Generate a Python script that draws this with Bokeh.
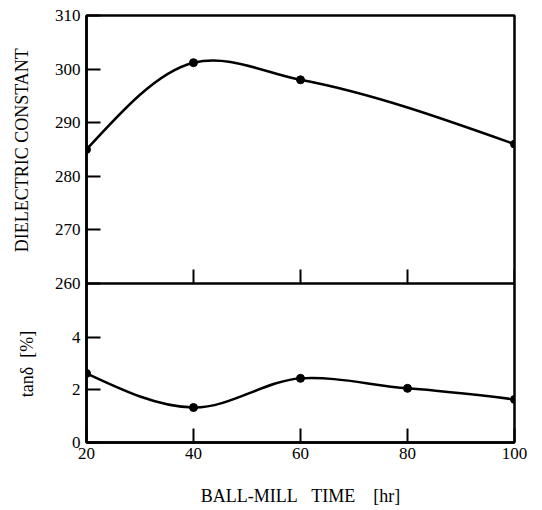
import math
from bokeh.plotting import figure
from bokeh.models import Range1d, LinearAxis, FixedTicker, ColumnDataSource
from bokeh.embed import file_html
from bokeh.resources import INLINE

# ---- data ----
ball_mill_time_dc = [20, 40, 60, 100]
dielectric_constant = [285.0, 301.2, 298.0, 286.0]

ball_mill_time_tan = [20, 40, 60, 80, 100]
tan_delta = [2.63, 1.33, 2.44, 2.06, 1.64]

x_ticks = [20, 40, 60, 80, 100]
dc_ticks = [260, 270, 280, 290, 300, 310]
tan_ticks = [0, 2, 4]

DC_LO, DC_HI = 260, 310      # dielectric-constant panel range
TAN_TOP = 6.05               # tan-delta value at the panel divider

FONT = "Liberation Serif"
TITLE_PX = 18
NBSP = "\u00a0"
NBSP_W = 0.25 * TITLE_PX     # width of a no-break space in Liberation Serif

# ---- layout (pixels) ----
LEFT, RIGHT, TOP, BOTTOM = 86, 22, 15, 68
FRAME_W = 428
TOP_PX, BOT_PX = 268, 159    # heights of the two panels inside the frame
W = LEFT + FRAME_W + RIGHT
H = TOP + TOP_PX + BOT_PX + BOTTOM

X0, X1 = 20, 100


def smooth_segments(xs, ys, tension=0.75):
    """Cubic Hermite bezier segments through the data points."""
    n = len(xs)
    m = [0.0] * n
    for i in range(1, n - 1):
        m[i] = tension * (ys[i + 1] - ys[i - 1]) / (xs[i + 1] - xs[i - 1])
    s0 = (ys[1] - ys[0]) / (xs[1] - xs[0])
    m[0] = (3 * s0 - m[1]) / 2
    sn = (ys[-1] - ys[-2]) / (xs[-1] - xs[-2])
    m[-1] = (3 * sn - m[-2]) / 2
    d = dict(x0=[], y0=[], x1=[], y1=[], cx0=[], cy0=[], cx1=[], cy1=[])
    for i in range(n - 1):
        h = xs[i + 1] - xs[i]
        d["x0"].append(xs[i]); d["y0"].append(ys[i])
        d["x1"].append(xs[i + 1]); d["y1"].append(ys[i + 1])
        d["cx0"].append(xs[i] + h / 3); d["cy0"].append(ys[i] + m[i] * h / 3)
        d["cx1"].append(xs[i + 1] - h / 3); d["cy1"].append(ys[i + 1] - m[i + 1] * h / 3)
    return ColumnDataSource(d)


dc_start = DC_LO - (DC_HI - DC_LO) * BOT_PX / TOP_PX
dc_range = Range1d(dc_start, DC_HI)
tan_end = TAN_TOP * (TOP_PX + BOT_PX) / BOT_PX
tan_range = Range1d(0, tan_end)


def tan_to_dc(t):
    """position of a tan-delta value on the main (dielectric) scale"""
    return dc_start + t * (DC_HI - dc_start) / tan_end


p = figure(width=W, height=H, x_range=Range1d(X0, X1), y_range=dc_range,
           output_backend="svg", toolbar_location=None,
           x_axis_location="below", y_axis_location=None,
           min_border_left=LEFT, min_border_right=RIGHT,
           min_border_top=TOP, min_border_bottom=BOTTOM)
p.extra_y_ranges = {"tan": tan_range}
p.xgrid.visible = False
p.ygrid.visible = False
p.outline_line_color = "black"
p.outline_line_width = 2.5
p.background_fill_color = "white"
p.border_fill_color = "white"


def style_axis(ax):
    ax.axis_line_width = 2.5
    ax.axis_line_color = "black"
    ax.major_tick_line_width = 2
    ax.major_tick_line_color = "black"
    ax.major_tick_in = 14
    ax.major_tick_out = 0
    ax.minor_tick_line_color = None
    ax.major_label_text_font = FONT
    ax.major_label_text_font_size = "17px"
    ax.major_label_text_color = "black"
    ax.axis_label_text_font = FONT
    ax.axis_label_text_font_style = "normal"
    ax.axis_label_text_font_size = f"{TITLE_PX}px"
    ax.axis_label_text_color = "black"


# left axis carrying the ticks of both panels
tan_positions = [tan_to_dc(t) for t in tan_ticks]
ax_left = LinearAxis(ticker=FixedTicker(ticks=dc_ticks + tan_positions))
ax_left.major_label_overrides = {pos: str(t) for pos, t in zip(tan_positions, tan_ticks)}
style_axis(ax_left)
ax_left.major_label_standoff = 6
p.add_layout(ax_left, "left")


def title_axis(text, standoff):
    ax = LinearAxis(ticker=FixedTicker(ticks=[]))
    style_axis(ax)
    ax.axis_line_color = None
    ax.major_tick_in = 0
    ax.major_label_standoff = 0
    ax.axis_label = text
    ax.axis_label_standoff = standoff
    return ax


# axis titles are centred on the whole frame; pad them so that each sits
# in the middle of its own panel
pad_tan = NBSP * round(TOP_PX / NBSP_W)   # pushes the lower title down
pad_dc = NBSP * round(BOT_PX / NBSP_W)    # pushes the upper title up

p.add_layout(title_axis("tanδ" + NBSP * 2 + "[%]" + pad_tan, 15), "left")
p.add_layout(title_axis(pad_dc + "DIELECTRIC CONSTANT", -18), "left")

# divider between the panels, with its upward ticks
ax_mid = LinearAxis(fixed_location=DC_LO, ticker=FixedTicker(ticks=x_ticks))
style_axis(ax_mid)
ax_mid.major_label_text_color = None
p.add_layout(ax_mid, "below")

# bottom axis
ax_x = p.xaxis[0]
style_axis(ax_x)
ax_x.ticker = FixedTicker(ticks=x_ticks)
ax_x.major_label_standoff = 5
ax_x.axis_label = "BALL-MILL" + NBSP * 3 + "TIME" + NBSP * 4 + "[hr]"
ax_x.axis_label_standoff = 24

# curves and points
p.bezier(x0="x0", y0="y0", x1="x1", y1="y1", cx0="cx0", cy0="cy0", cx1="cx1", cy1="cy1",
         source=smooth_segments(ball_mill_time_dc, dielectric_constant),
         line_color="black", line_width=2.5)
p.scatter(ball_mill_time_dc, dielectric_constant, size=8, color="black")

p.bezier(x0="x0", y0="y0", x1="x1", y1="y1", cx0="cx0", cy0="cy0", cx1="cx1", cy1="cy1",
         source=smooth_segments(ball_mill_time_tan, tan_delta),
         line_color="black", line_width=2.5, y_range_name="tan")
p.scatter(ball_mill_time_tan, tan_delta, size=8, color="black", y_range_name="tan")

open("out.html", "w").write(file_html(p, INLINE))
